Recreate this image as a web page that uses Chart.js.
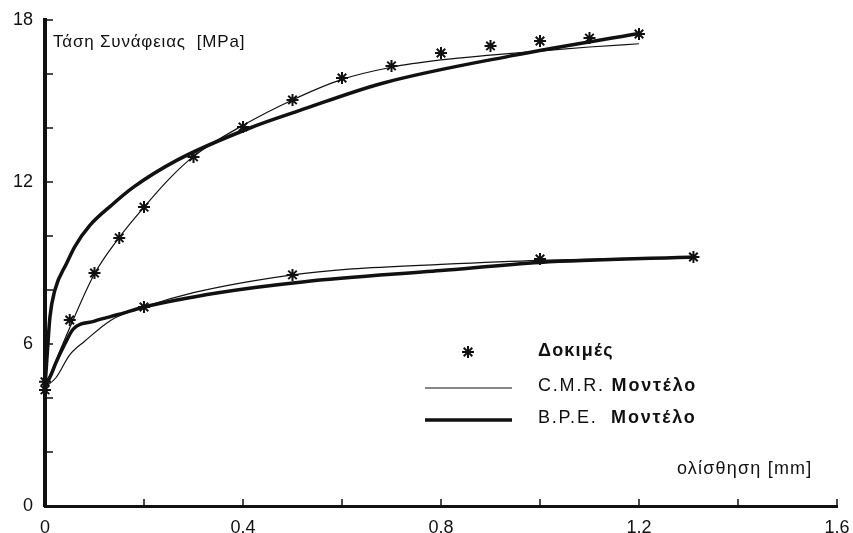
<!DOCTYPE html>
<html>
<head>
<meta charset="utf-8">
<script src="https://cdn.jsdelivr.net/npm/chart.js@4/dist/chart.umd.min.js"></script>
<style>
    body { margin: 0; background: #fff; }
    #wrap { position: relative; width: 853px; height: 533px; }
    .lbl { position: absolute; font-family: "Liberation Sans", Arial, sans-serif; font-size: 18px; letter-spacing: 1.2px; color: #111; white-space: nowrap; line-height: 1; }
    .b { font-weight: bold; }
</style>
</head>
<body>
<div id="wrap">
    <canvas id="chart" width="853" height="533"></canvas>
    <div class="lbl" style="left:53px; top:33px; font-size:17px; letter-spacing:0.8px;">Τάση Συνάφειας&nbsp; [MPa]</div>
    <div class="lbl" style="left:677px; top:459px;">ολίσθηση [mm]</div>
    <div class="lbl b" style="left:538px; top:341px;">Δοκιμές</div>
    <div class="lbl" style="left:538px; top:376px; letter-spacing:1.8px;">C.M.R. <span class="b">Μοντέλο</span></div>
    <div class="lbl" style="left:538px; top:408px; letter-spacing:1.8px;">B.P.E.&nbsp; <span class="b">Μοντέλο</span></div>
</div>
<script>
// Δοκιμές (πειραματικά σημεία)
const testX1 = [0, 0.05, 0.1, 0.15, 0.2, 0.3, 0.4, 0.5, 0.6, 0.7, 0.8, 0.9, 1.0, 1.1, 1.2];
const testY1 = [4.6, 6.89, 8.63, 9.93, 11.07, 12.93, 14.04, 15.04, 15.85, 16.3, 16.78, 17.04, 17.22, 17.33, 17.48];
const testX2 = [0, 0.2, 0.5, 1.0, 1.31];
const testY2 = [4.3, 7.37, 8.56, 9.15, 9.22];

// C.M.R. μοντέλο
const cmrX1 = [0, 0.02, 0.05, 0.1, 0.15, 0.2, 0.25, 0.3, 0.4, 0.5, 0.6, 0.7, 0.8, 0.9, 1.0, 1.1, 1.2];
const cmrY1 = [4.4, 5.3, 6.6, 8.6, 9.95, 11.07, 12.1, 12.95, 14.1, 15.04, 15.8, 16.25, 16.52, 16.7, 16.85, 17.0, 17.12];
const cmrX2 = [0, 0.022, 0.05, 0.08, 0.135, 0.2, 0.3, 0.5, 0.62, 0.8, 1.0, 1.31];
const cmrY2 = [4.4, 4.75, 5.6, 6.1, 6.9, 7.37, 7.9, 8.56, 8.78, 8.95, 9.1, 9.22];

// B.P.E. μοντέλο
const bpeX1 = [0, 0.004, 0.01, 0.02, 0.044, 0.06, 0.091, 0.135, 0.178, 0.267, 0.414, 0.515, 0.68, 0.95, 1.2];
const bpeY1 = [4.4, 5.5, 7.0, 8.0, 9.0, 9.6, 10.4, 11.15, 11.8, 12.81, 14.0, 14.65, 15.65, 16.7, 17.5];
const bpeX2 = [0, 0.012, 0.022, 0.04, 0.057, 0.1, 0.15, 0.2, 0.35, 0.52, 0.8, 1.0, 1.31];
const bpeY2 = [4.4, 4.85, 5.3, 6.0, 6.55, 6.85, 7.1, 7.37, 7.9, 8.3, 8.72, 9.02, 9.22];

const xLabels = [0, 0.4, 0.8, 1.2, 1.6];
const yLabels = [0, 6, 12, 18];

const INK = '#111';

function pts(xs, ys) {
    return xs.map((x, i) => ({ x: x, y: ys[i] }));
}

function lineSet(xs, ys, width) {
    return {
        data: pts(xs, ys),
        showLine: true,
        borderColor: INK,
        borderWidth: width,
        pointRadius: 0,
        cubicInterpolationMode: 'monotone',
        clip: false
    };
}

function starSet(xs, ys) {
    return {
        data: pts(xs, ys),
        showLine: false,
        pointStyle: 'star',
        pointRadius: 6,
        borderWidth: 2,
        borderColor: INK,
        backgroundColor: INK,
        clip: false
    };
}

// μικρές γραμμές υποδιαίρεσης προς τα μέσα
const innerTicks = {
    id: 'innerTicks',
    afterDraw(chart) {
        const ctx = chart.ctx;
        const xs = chart.scales.x, ys = chart.scales.y;
        ctx.save();
        ctx.strokeStyle = INK;
        ctx.lineWidth = 1.5;
        ctx.beginPath();
        ys.ticks.forEach(t => {
            if (t.value === 0) return;
            const py = ys.getPixelForValue(t.value);
            ctx.moveTo(xs.left, py);
            ctx.lineTo(xs.left + 8, py);
        });
        xs.ticks.forEach(t => {
            if (t.value === 0) return;
            const px = xs.getPixelForValue(t.value);
            ctx.moveTo(px, ys.bottom);
            ctx.lineTo(px, ys.bottom - 7);
        });
        ctx.stroke();
        ctx.restore();
    }
};

// σύμβολα υπομνήματος
const legendMarks = {
    id: 'legendMarks',
    afterDraw(chart) {
        const ctx = chart.ctx;
        ctx.save();
        ctx.strokeStyle = INK;
        ctx.fillStyle = INK;
        ctx.lineWidth = 2;
        Chart.helpers.drawPoint(ctx, { pointStyle: 'star', radius: 6, borderWidth: 2 }, 468, 352);
        ctx.lineWidth = 1.2;
        ctx.beginPath();
        ctx.moveTo(425, 388);
        ctx.lineTo(512, 388);
        ctx.stroke();
        ctx.lineWidth = 3.5;
        ctx.beginPath();
        ctx.moveTo(425, 420);
        ctx.lineTo(512, 420);
        ctx.stroke();
        ctx.restore();
    }
};

function renderChart() {
    const canvas = document.getElementById('chart');
    const tickFont = { family: '"Liberation Sans", Arial, sans-serif', size: 18 };

    new Chart(canvas, {
        type: 'scatter',
        data: {
            datasets: [
                lineSet(cmrX1, cmrY1, 1.2),
                lineSet(cmrX2, cmrY2, 1.2),
                lineSet(bpeX1, bpeY1, 3.5),
                lineSet(bpeX2, bpeY2, 3.5),
                starSet(testX1, testY1),
                starSet(testX2, testY2)
            ]
        },
        options: {
            responsive: false,
            animation: false,
            layout: { padding: { top: 20, right: 16, bottom: 0, left: 0 } },
            plugins: {
                legend: { display: false },
                tooltip: { enabled: false }
            },
            scales: {
                x: {
                    type: 'linear',
                    min: 0,
                    max: 1.6,
                    grid: { display: false, drawTicks: false },
                    border: { display: true, color: INK, width: 3 },
                    ticks: {
                        stepSize: 0.2,
                        color: INK,
                        font: tickFont,
                        padding: 11,
                        maxRotation: 0,
                        autoSkip: false,
                        callback: v => {
                            const hit = xLabels.find(l => Math.abs(l - v) < 1e-6);
                            return hit === undefined ? '' : (hit === 0 ? '0' : hit.toFixed(1));
                        }
                    },
                    afterFit: s => {
                        s.height = 27;
                        s.paddingLeft = 0;
                        s.paddingRight = 0;
                    }
                },
                y: {
                    min: 0,
                    max: 18,
                    grid: { display: false, drawTicks: false },
                    border: { display: true, color: INK, width: 4 },
                    ticks: {
                        stepSize: 2,
                        color: INK,
                        font: tickFont,
                        padding: 12,
                        autoSkip: false,
                        callback: v => yLabels.includes(v) ? String(v) : ''
                    },
                    afterFit: s => {
                        s.width = 45;
                        s.paddingTop = 0;
                        s.paddingBottom = 0;
                    }
                }
            }
        },
        plugins: [innerTicks, legendMarks]
    });
}

renderChart();
</script>
</body>
</html>
